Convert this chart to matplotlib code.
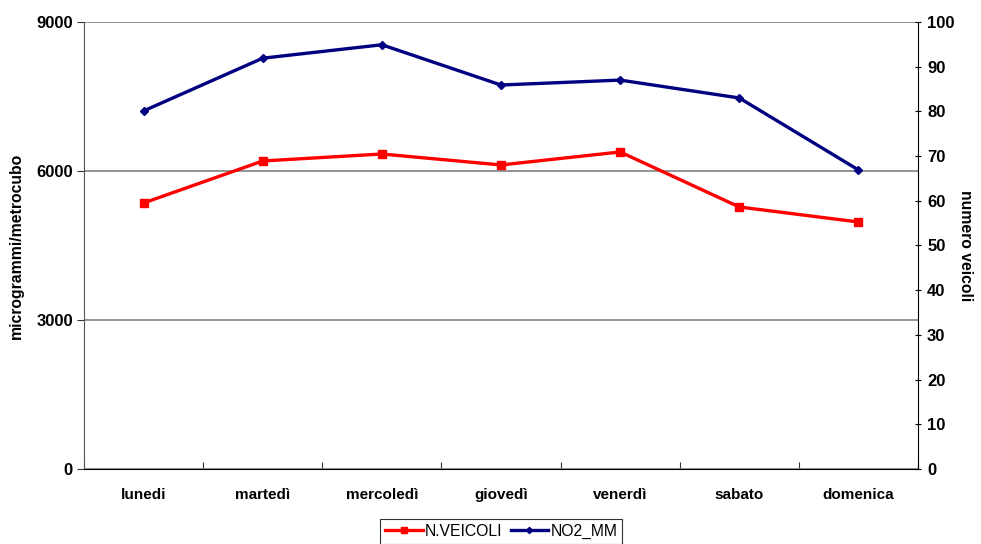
import matplotlib
matplotlib.use('Agg')
import matplotlib.pyplot as plt
import numpy as np

# giorni della settimana
giorni = ['lunedi', 'martedì', 'mercoledì', 'giovedì', 'venerdì', 'sabato', 'domenica']
# serie sull'asse sinistro
nVeicoli = [5356, 6201, 6342, 6121, 6383, 5275, 4973]
# serie sull'asse destro
no2MM = [80.1, 91.9, 94.9, 85.9, 87.0, 83.0, 66.9]

plt.rcParams['font.family'] = ['Liberation Sans', 'DejaVu Sans']

fig = plt.figure(figsize=(9.81, 5.44), dpi=100)
ax = fig.add_axes([0.0856, 0.1379, 0.8502, 0.8217])
ax2 = ax.twinx()

x = np.arange(len(giorni)) + 0.5

ax.plot(x, nVeicoli, color='#ff0000', lw=2.4, marker='s', ms=6, label='N.VEICOLI', zorder=3)
ax2.plot(x, no2MM, color='#000080', lw=2.4, marker='D', ms=4.5, label='NO2_MM', zorder=3)

ax.set_xlim(0, len(giorni))
ax.set_ylim(0, 9000)
ax2.set_ylim(0, 100)

# griglia orizzontale grigia
ax.set_yticks([0, 3000, 6000, 9000])
ax.set_yticklabels(['0', '3000', '6000', '9000'], fontsize=12, fontweight='bold')
ax.grid(axis='y', color='#808080', lw=1.2)
ax.set_axisbelow(True)

ax2.set_yticks(np.arange(0, 101, 10))
ax2.set_yticklabels([str(v) for v in range(0, 101, 10)], fontsize=12, fontweight='bold')

# tacche tra le categorie, etichette al centro
ax.set_xticks(np.arange(0, len(giorni) + 1))
ax.set_xticklabels([])
ax.set_xticks(x, minor=True)
ax.set_xticklabels(giorni, minor=True, fontsize=11, fontweight='bold')
ax.tick_params(axis='x', which='minor', length=0, pad=14)
ax.tick_params(axis='x', which='major', length=5, direction='in', color='#333333')
ax.tick_params(axis='y', length=5, color='#333333', pad=3)
ax2.tick_params(axis='y', length=5, direction='inout', color='black', pad=4)

for a in (ax, ax2):
    a.spines['top'].set_visible(False)
ax.spines['right'].set_visible(False)
ax2.spines['left'].set_visible(False)
ax2.spines['bottom'].set_visible(False)
ax.spines['left'].set_color('#555555')
ax.spines['bottom'].set_color('black')
ax2.spines['right'].set_color('black')

ax.set_ylabel('microgrammi/metrocubo', fontsize=11.3, fontweight='bold', labelpad=9)
ax2.set_ylabel('numero veicoli', fontsize=11.3, fontweight='bold', rotation=270, labelpad=13)

h1, l1 = ax.get_legend_handles_labels()
h2, l2 = ax2.get_legend_handles_labels()
leg = fig.legend(h1 + h2, l1 + l2, loc='lower center', bbox_to_anchor=(0.511, -0.014), ncol=2,
                 fontsize=11.3, frameon=True, fancybox=False, handlelength=2.4, handletextpad=0.15,
                 columnspacing=0.5, borderpad=0.3, markerscale=0.7)
leg.get_frame().set_edgecolor('black')
leg.get_frame().set_linewidth(0.8)

fig.savefig('out.png', dpi=100)
